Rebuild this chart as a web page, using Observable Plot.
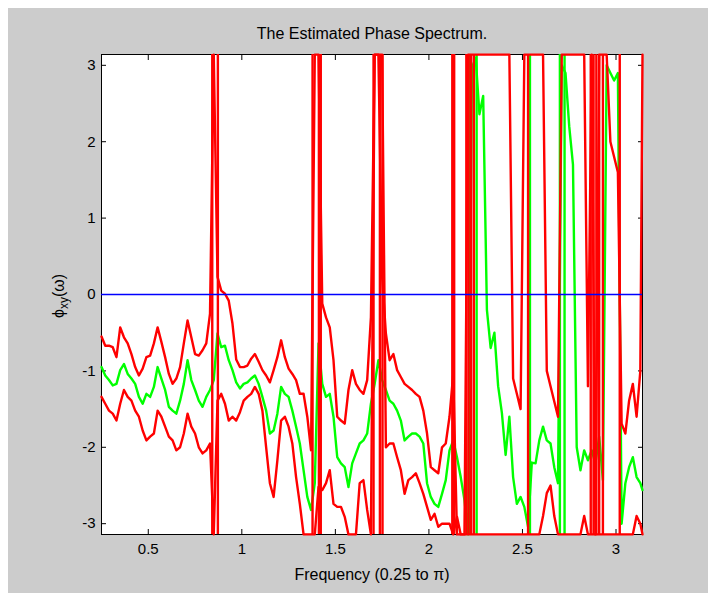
<!DOCTYPE html>
<html><head><meta charset="utf-8">
<script src="https://cdn.jsdelivr.net/npm/d3@7"></script>
<script src="https://cdn.jsdelivr.net/npm/@observablehq/plot@0.6"></script>
<style>
html,body{margin:0;padding:0;background:#ffffff;}
#wrap{position:relative;width:717px;height:593px;overflow:hidden;}
#bg{position:absolute;left:8px;top:8px;width:700px;height:585px;background:#cccccc;}
#chart{position:absolute;left:0;top:0;}
</style></head><body>
<div id="wrap"><div id="bg"></div><div id="chart"></div></div>
<script>
const title = "The Estimated Phase Spectrum.";
const xLabel = "Frequency (0.25 to \u03c0)";
const xTicks = [0.5, 1, 1.5, 2, 2.5, 3];
const yTicks = [-3, -2, -1, 0, 1, 2, 3];
const zeroLine = [0];

const freq = [
0.25,0.27,0.29,0.31,0.33,0.35,0.37,0.39,0.41,0.43,
0.45,0.47,0.49,0.51,0.53,0.55,0.57,0.59,0.61,0.63,
0.65,0.67,0.69,0.71,0.73,0.75,0.77,0.79,0.81,0.83,
0.85,0.87,0.89,0.91,0.93,0.95,0.97,0.99,1.01,1.03,
1.05,1.07,1.09,1.11,1.13,1.15,1.17,1.19,1.21,1.23,
1.25,1.27,1.29,1.31,1.33,1.35,1.37,1.39,1.41,1.43,
1.45,1.47,1.49,1.51,1.53,1.55,1.57,1.59,1.61,1.63,
1.65,1.67,1.69,1.71,1.73,1.75,1.77,1.79,1.81,1.83,
1.85,1.87,1.89,1.91,1.93,1.95,1.97,1.99,2.01,2.03,
2.05,2.07,2.09,2.11,2.13,2.15,2.17,2.19,2.21,2.23,
2.25,2.27,2.29,2.31,2.33,2.35,2.37,2.39,2.41,2.43,
2.45,2.47,2.49,2.51,2.53,2.55,2.57,2.59,2.61,2.63,
2.65,2.67,2.69,2.71,2.73,2.75,2.77,2.79,2.81,2.83,
2.85,2.87,2.89,2.91,2.93,2.95,2.97,2.99,3.01,3.03,
3.05,3.07,3.09,3.11,3.13,3.1416];

// estimated phase (green)
const phase = [
-0.95,-1.06,-1.12,-1.19,-1.17,-0.99,-0.91,-1.04,-1.10,-1.17,
-1.34,-1.43,-1.30,-1.34,-1.21,-0.95,-1.10,-1.25,-1.47,-1.52,
-1.56,-1.39,-1.17,-0.86,-1.12,-1.25,-1.39,-1.47,-1.34,-1.25,
-1.12,-0.51,-0.69,-0.67,-0.86,-0.99,-1.15,-1.23,-1.17,-1.15,
-1.10,-1.06,-1.17,-1.34,-1.52,-1.82,-1.78,-1.56,-1.21,-1.30,
-1.34,-1.52,-1.73,-1.95,-2.30,-2.65,-2.82,-2.47,-0.64,-1.17,
-1.34,-1.30,-1.60,-2.13,-2.21,-2.26,-2.52,-2.21,-2.08,-1.95,
-1.91,-1.82,-1.43,-1.17,-0.86,-1.12,-1.25,-1.39,-1.43,-1.52,
-1.65,-1.91,-1.86,-1.82,-1.82,-1.86,-1.95,-2.47,-2.65,-2.74,
-2.78,-2.61,-2.43,-2.04,-1.91,-2.13,-2.39,-2.69,-3.14,2.97,
3.10,2.36,2.60,-0.20,-0.70,-0.50,-1.20,-1.55,-2.10,-1.60,
-2.39,-2.74,-2.65,-2.78,-3.04,-2.20,-2.21,-1.91,-1.73,-1.91,
-1.95,-2.26,-2.47,3.00,2.90,2.20,1.70,-2.00,-2.30,-2.04,
-2.17,-2.04,-2.21,-1.86,-2.43,3.00,2.90,2.80,2.90,-3.00,
-2.47,-2.26,-2.13,-2.39,-2.47,-2.56];

// upper confidence bound (red)
const upper = [
-0.55,-0.67,-0.67,-0.69,-0.82,-0.43,-0.56,-0.64,-0.78,-0.95,
-1.06,-0.97,-0.82,-0.80,-0.64,-0.43,-0.62,-0.82,-1.04,-1.17,
-1.10,-0.95,-0.64,-0.34,-0.56,-0.78,-0.80,-0.73,-0.64,-0.25,
3.14,0.23,0.05,0.01,-0.08,-0.38,-0.85,-0.95,-0.95,-0.93,
-0.84,-0.78,-0.88,-0.99,-1.06,-1.15,-0.99,-0.82,-0.60,-0.82,
-0.97,-1.04,-1.12,-1.30,-1.30,-1.60,-2.04,3.14,3.14,-0.12,
-0.30,-0.43,-0.86,-1.60,-1.65,-1.69,-1.25,-0.99,-1.17,-1.25,
-1.30,-1.12,-0.30,3.14,3.14,0.23,-0.51,-0.86,-0.78,-0.99,
-1.08,-1.17,-1.21,-1.25,-1.30,-1.34,-1.52,-1.82,-2.26,-2.30,
-2.34,-2.00,-1.95,-1.60,-1.04,-3.14,-3.14,-3.14,3.14,3.14,
3.14,3.14,3.14,3.14,3.14,3.14,3.14,3.14,3.14,3.14,
-1.10,-1.30,-1.50,3.14,3.14,3.14,3.14,3.14,3.14,-1.00,
-1.20,-1.40,-1.60,3.14,3.14,3.14,3.14,3.14,3.14,3.14,
-1.20,3.14,-3.14,3.14,3.14,3.14,2.00,1.80,1.60,-1.69,
-1.82,-1.39,-1.17,-1.60,-1.00,3.14];

// lower confidence bound (red)
const lower = [
-1.34,-1.43,-1.52,-1.56,-1.65,-1.43,-1.25,-1.34,-1.39,-1.52,
-1.60,-1.78,-1.91,-1.86,-1.82,-1.52,-1.60,-1.73,-1.86,-1.91,
-2.04,-2.00,-1.82,-1.56,-1.73,-1.82,-2.00,-2.08,-2.04,-1.95,
-3.14,-1.39,-1.30,-1.43,-1.65,-1.60,-1.65,-1.54,-1.39,-1.34,
-1.30,-1.21,-1.30,-1.52,-2.00,-2.47,-2.65,-2.17,-1.65,-1.60,
-1.73,-1.95,-2.39,-2.74,-3.14,-3.14,-3.14,-3.14,-2.52,-2.56,
-2.47,-2.30,-2.74,-2.78,-2.78,-2.91,-3.14,-3.14,-3.14,-2.47,
-2.43,-2.82,-3.14,3.14,3.14,3.14,-2.00,-1.95,-1.95,-2.13,
-2.30,-2.61,-2.43,-2.39,-2.34,-2.47,-2.61,-2.78,-2.95,-2.87,
-3.04,-3.00,-3.00,-3.00,-3.14,-2.91,-3.14,-3.14,-3.14,-3.14,
-3.14,-3.14,-3.14,-3.14,-3.14,-3.14,-3.14,-3.14,-3.14,-3.14,
-3.14,-3.14,-3.14,-3.14,-3.14,-3.14,-3.14,-3.14,-2.90,-2.60,
-2.50,-2.90,-3.14,-3.14,-3.14,-3.14,-3.14,-3.14,-3.14,-2.90,
-3.14,-3.14,-3.14,-3.14,-3.14,-3.14,-3.14,-3.14,-3.14,-3.14,
-3.14,-3.14,-3.14,-2.90,-3.00,-3.14];

// frequencies where a bound wraps from +pi to -pi (full-height jumps)
const redWraps = [0.842, 0.872, 1.378, 1.412, 1.422, 1.704, 1.738, 1.752,
  2.125, 2.135, 2.20, 2.212, 2.225, 2.24, 2.53, 2.865, 2.88, 2.895, 2.91, 2.93, 3.02];
// frequencies where the estimate wraps
const greenWraps = [2.22, 2.255, 2.54, 2.70, 2.725];

const rows = freq.map((f, i) => ({f, phase: phase[i], upper: upper[i], lower: lower[i]}));

const RED = "#ff0000", GREEN = "#00ff00", BLUE = "#0000ff";
const font = "'Liberation Sans', Arial, Helvetica, sans-serif";

const chart = Plot.plot({
  width: 717, height: 593,
  marginLeft: 101, marginRight: 75, marginTop: 54, marginBottom: 59,
  style: {background: "transparent", fontFamily: font, fontSize: "15px", color: "#000"},
  x: {domain: [0.25, Math.PI]},
  y: {domain: [-Math.PI, Math.PI]},
  marks: [
    Plot.frame({fill: "white", stroke: "none"}),
    Plot.frame({stroke: "black", strokeWidth: 1}),
    Plot.axisX(xTicks, {anchor: "bottom", tickSize: -5, tickPadding: 14, tickFormat: d => String(d), label: null, fontSize: 15}),
    Plot.axisX(xTicks, {anchor: "top", tickSize: -5, tickFormat: () => "", label: null}),
    Plot.axisY(yTicks, {anchor: "left", tickSize: -5, tickPadding: 11, tickFormat: d => String(d), label: null, fontSize: 15}),
    Plot.axisY(yTicks, {anchor: "right", tickSize: -5, tickFormat: () => "", label: null}),
    Plot.line(rows, {x: "f", y: "phase", stroke: GREEN, strokeWidth: 2.4}),
    Plot.ruleX(greenWraps, {stroke: GREEN, strokeWidth: 2.4}),
    Plot.line(rows, {x: "f", y: "upper", stroke: RED, strokeWidth: 2.4}),
    Plot.line(rows, {x: "f", y: "lower", stroke: RED, strokeWidth: 2.4}),
    Plot.ruleX(redWraps, {stroke: RED, strokeWidth: 2.4}),
    Plot.ruleY(zeroLine, {stroke: BLUE, strokeWidth: 1.3}),
    Plot.text([title], {frameAnchor: "top", dy: -27, fontSize: 16, fill: "#000"}),
    Plot.text([xLabel], {frameAnchor: "bottom", dy: 34, lineAnchor: "top", fontSize: 16, fill: "#000"})
  ]
});
document.getElementById("chart").appendChild(chart);

// y-axis label with subscript
const svg = d3.select(chart);
const yl = svg.append("text")
  .attr("transform", "translate(64,296) rotate(-90)")
  .attr("text-anchor", "middle")
  .attr("font-family", font)
  .attr("font-size", 16)
  .attr("fill", "#000");
yl.append("tspan").text("\u03d5");
yl.append("tspan").attr("dy", 4).attr("font-size", 12).text("xy");
yl.append("tspan").attr("dy", -4).text("(\u03c9)");
</script>
</body></html>
